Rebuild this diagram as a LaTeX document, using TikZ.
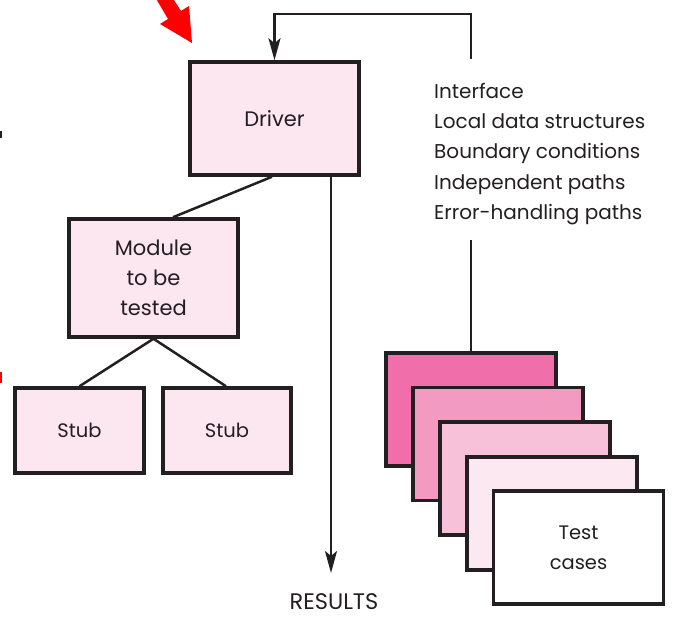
\documentclass[tikz,border=0pt]{standalone}
\usepackage{fontspec}
\setmainfont{Poppins}
\usetikzlibrary{arrows.meta,calc}
\definecolor{pinkA}{HTML}{F06EA9}
\definecolor{pinkB}{HTML}{F39AC1}
\definecolor{pinkC}{HTML}{F7C1D9}
\definecolor{pinkD}{HTML}{FCE8F1}
\definecolor{boxfill}{HTML}{FCE6F0}
\definecolor{ink}{HTML}{231F20}
\definecolor{redarrow}{HTML}{FF0000}
\begin{document}
\begin{tikzpicture}[x=1pt,y=-1pt,
  box/.style={draw=ink,line width=3.5pt,fill=boxfill,inner sep=0pt,font=\fontsize{21}{30}\selectfont,align=center,text=ink},
  smallbox/.style={box,font=\fontsize{19.5}{30}\selectfont},
  card/.style={draw=ink,line width=3.5pt,inner sep=0pt,minimum width=170pt,minimum height=113pt},
  conn/.style={draw=ink,line width=2.5pt},
  tip/.style={-{Stealth[length=22pt,width=12pt,inset=5pt]}},
  lbl/.style={font=\fontsize{20}{30.25}\selectfont,text=ink,inner sep=0pt}]
\useasboundingbox (0,0) rectangle (691,620);
% red arrow (cropped)
\begin{scope}
\clip (0,0) rectangle (691,620);
\fill[redarrow] (192,43) -- (160,24) -- (168,19) -- (151,-10) -- (163,-17) -- (181,11) -- (189,6) -- cycle;
\fill[redarrow] (0,372) rectangle (2,383);
\fill[ink] (0,131) rectangle (2,138);
\end{scope}
% boxes
\node[box,minimum width=169pt,minimum height=113pt] (Driver) at (274.5,118.5) {Driver};
\node[box,minimum width=169pt,minimum height=118pt] (Module) at (153.5,278) {Module\\to be\\tested};
\node[smallbox,minimum width=129pt,minimum height=85pt] (Stub1) at (79.5,430.5) {Stub};
\node[smallbox,minimum width=128pt,minimum height=85pt] (Stub2) at (227,430.5) {Stub};
% test cases stack
\node[card,fill=pinkA] (C1) at (471,409.5) {};
\node[card,fill=pinkB] (C2) at (498,444) {};
\node[card,fill=pinkC] (C3) at (525,478.5) {};
\node[card,fill=pinkD] (C4) at (552,513.5) {};
\node[card,fill=white,font=\fontsize{19.5}{30}\selectfont,align=center,text=ink] (C5) at (578.5,547.5) {Test\\cases};
% interface text
\node[lbl,anchor=north west,align=left] (Iface) at (434,83) {Interface\\Local data structures\\Boundary conditions\\Independent paths\\Error-handling paths};
\node[lbl,font=\fontsize{22.5}{27}\selectfont] (Results) at (334,602) {RESULTS};
% connectors
\coordinate (LoopStart) at (471,59);
\coordinate (LoopCorner) at (471,14);
\coordinate (IfaceBottom) at (471,240);
\coordinate (ResultsTip) at (331,573);
\draw[conn,tip] (LoopStart) -- (LoopCorner) -| (Driver.north);
\draw[conn,line width=2pt] (IfaceBottom) -- (C1.north);
\draw[conn] ($(Driver.south)+(-2.5,0)$) -- ($(Module.north)+(19.5,0)$);
\draw[conn] (Module.south) -- (Stub1.north);
\draw[conn] (Module.south) -- ($(Stub2.north)+(-1,0)$);
\draw[conn,tip] (Driver.south -| ResultsTip) -- (ResultsTip);
\end{tikzpicture}
\end{document}
